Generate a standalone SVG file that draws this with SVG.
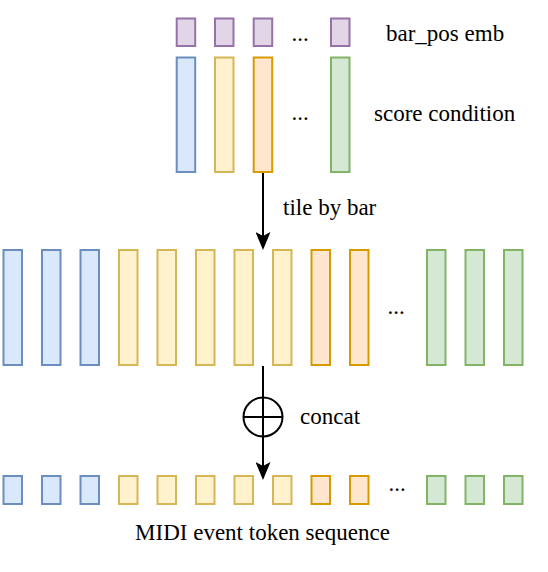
<svg xmlns="http://www.w3.org/2000/svg" width="548" height="572" viewBox="0 0 548 572">
<style>
rect{stroke-width:2}
.blue{fill:#dae8fc;stroke:#6c8ebf}
.yellow{fill:#fff2cc;stroke:#d6b656}
.orange{fill:#ffe6cc;stroke:#d79b00}
.green{fill:#d5e8d4;stroke:#82b366}
.purple{fill:#e1d5e7;stroke:#9673a6}
.lbl{font-size:23px;fill:#000}
.edge{stroke:#000;stroke-width:2;fill:none}
</style>
<defs>
<marker id="arrow" markerUnits="userSpaceOnUse" viewBox="0 0 18 15" refX="4" refY="7.5" markerWidth="18" markerHeight="15" orient="auto">
<path d="M0,0 L18,7.5 L0,15 L4,7.5 Z" fill="#000"/>
</marker>
</defs>
<rect width="548" height="572" fill="#fff"/>
<g font-family="Liberation Serif, Times New Roman, DejaVu Serif, serif">

<g id="bar_pos_emb">
<g id="pos1"><rect class="purple" x="176.7" y="18.5" width="18.5" height="27.5"/></g>
<g id="pos2"><rect class="purple" x="215" y="18.5" width="18.5" height="27.5"/></g>
<g id="pos3"><rect class="purple" x="253.7" y="18.5" width="18.5" height="27.5"/></g>
<g id="pos4"><rect class="purple" x="331" y="18.5" width="18.5" height="27.5"/></g>
<text class="lbl" x="291.5" y="40.5">...</text>
<text class="lbl" x="386" y="41">bar_pos emb</text>
</g>

<g id="score_condition">
<g id="sc1"><rect class="blue" x="176.7" y="57.5" width="18.5" height="114.5"/></g>
<g id="sc2"><rect class="yellow" x="215" y="57.5" width="18.5" height="114.5"/></g>
<g id="sc3"><rect class="orange" x="253.7" y="57.5" width="18.5" height="114.5"/></g>
<g id="sc4"><rect class="green" x="331" y="57.5" width="18.5" height="114.5"/></g>
<text class="lbl" x="291.5" y="119.5">...</text>
<text class="lbl" x="374" y="121">score condition</text>
</g>

<g id="tiled_row">
<g id="t0"><rect class="blue" x="3.5" y="250" width="18.5" height="115"/></g>
<g id="t1"><rect class="blue" x="42" y="250" width="18.5" height="115"/></g>
<g id="t2"><rect class="blue" x="80.5" y="250" width="18.5" height="115"/></g>
<g id="t3"><rect class="yellow" x="119" y="250" width="18.5" height="115"/></g>
<g id="t4"><rect class="yellow" x="157.5" y="250" width="18.5" height="115"/></g>
<g id="t5"><rect class="yellow" x="196" y="250" width="18.5" height="115"/></g>
<g id="t6"><rect class="yellow" x="234.5" y="250" width="18.5" height="115"/></g>
<g id="t7"><rect class="yellow" x="273" y="250" width="18.5" height="115"/></g>
<g id="t8"><rect class="orange" x="311.5" y="250" width="18.5" height="115"/></g>
<g id="t9"><rect class="orange" x="350" y="250" width="18.5" height="115"/></g>
<text class="lbl" x="387.5" y="314">...</text>
<g id="t11"><rect class="green" x="427" y="250" width="18.5" height="115"/></g>
<g id="t12"><rect class="green" x="465.5" y="250" width="18.5" height="115"/></g>
<g id="t13"><rect class="green" x="504" y="250" width="18.5" height="115"/></g>
</g>

<g id="midi_row">
<g id="m0"><rect class="blue" x="3.5" y="476" width="18.5" height="28"/></g>
<g id="m1"><rect class="blue" x="42" y="476" width="18.5" height="28"/></g>
<g id="m2"><rect class="blue" x="80.5" y="476" width="18.5" height="28"/></g>
<g id="m3"><rect class="yellow" x="119" y="476" width="18.5" height="28"/></g>
<g id="m4"><rect class="yellow" x="157.5" y="476" width="18.5" height="28"/></g>
<g id="m5"><rect class="yellow" x="196" y="476" width="18.5" height="28"/></g>
<g id="m6"><rect class="yellow" x="234.5" y="476" width="18.5" height="28"/></g>
<g id="m7"><rect class="yellow" x="273" y="476" width="18.5" height="28"/></g>
<g id="m8"><rect class="orange" x="311.5" y="476" width="18.5" height="28"/></g>
<g id="m9"><rect class="orange" x="350" y="476" width="18.5" height="28"/></g>
<text class="lbl" x="388.5" y="490.5">...</text>
<g id="m11"><rect class="green" x="427" y="476" width="18.5" height="28"/></g>
<g id="m12"><rect class="green" x="465.5" y="476" width="18.5" height="28"/></g>
<g id="m13"><rect class="green" x="504" y="476" width="18.5" height="28"/></g>
<text class="lbl" x="262.5" y="540" text-anchor="middle">MIDI event token sequence</text>
</g>

<g id="concat_op">
<circle cx="263" cy="417" r="19.5" fill="#fff" stroke="#000" stroke-width="2"/>
<line x1="243.5" y1="417" x2="282.5" y2="417" stroke="#000" stroke-width="2"/>
<text class="lbl" x="300" y="424">concat</text>
</g>

<g id="connectors">
<line class="edge" x1="263" y1="173" x2="263" y2="236" marker-end="url(#arrow)"/>
<text class="lbl" x="283" y="215">tile by bar</text>
<line class="edge" x1="263" y1="366" x2="263" y2="466" marker-end="url(#arrow)"/>
</g>
</g>
</svg>
